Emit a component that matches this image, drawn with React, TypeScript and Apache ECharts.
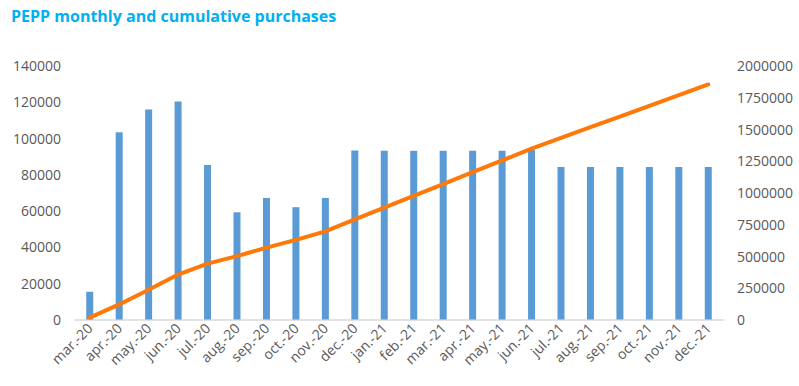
import React, { useEffect, useRef } from "react";
import * as echarts from "echarts";

const categories = [
  "mar.-20", "apr.-20", "may.-20", "jun.-20", "jul.-20", "aug.-20", "sep.-20", "oct.-20", "nov.-20", "dec.-20",
  "jan.-21", "feb.-21", "mar.-21", "apr.-21", "may.-21", "jun.-21", "jul.-21", "aug.-21", "sep.-21", "oct.-21", "nov.-21", "dec.-21",
];

const monthly = [
  15300, 103200, 115700, 120100, 85200, 59100, 67000, 61900, 67000, 93100,
  93000, 93000, 93000, 93000, 93000, 93400, 84100, 84100, 84100, 84100, 84100, 84100,
];

const cumulative = [
  15300, 118500, 234200, 354300, 439500, 498600, 565600, 627500, 694500, 787600,
  880600, 973600, 1066600, 1159600, 1252600, 1346000, 1430100, 1514200, 1598300, 1682400, 1766500, 1850600,
];

const title = "PEPP monthly and cumulative purchases";

export default function App() {
  const ref = useRef<HTMLDivElement>(null);
  useEffect(() => {
    document.body.style.margin = "0";
    const chart = echarts.init(ref.current!, null, { renderer: "svg" });
    const labelStyle = { color: "#595959", fontSize: 14, fontFamily: "Open Sans" };
    const plain = (v: number) => String(v);
    chart.setOption({
      animation: false,
      title: {
        text: title,
        left: 6,
        top: 3,
        textStyle: { color: "#00B0F0", fontSize: 16, fontWeight: "bold", fontFamily: "Open Sans" },
      },
      grid: { left: 75, right: 76, top: 65.5, bottom: 66.5, containLabel: false },
      xAxis: {
        type: "category",
        data: categories,
        axisLine: { lineStyle: { color: "#D9D9D9", width: 1.5 } },
        axisTick: { show: false },
        axisLabel: { ...labelStyle, rotate: 45, margin: 6, interval: 0 },
      },
      yAxis: [
        {
          type: "value",
          min: 0,
          max: 140000,
          interval: 20000,
          splitLine: { show: false },
          axisLine: { show: false },
          axisTick: { show: false },
          axisLabel: { ...labelStyle, margin: 14, formatter: plain },
        },
        {
          type: "value",
          min: 0,
          max: 2000000,
          interval: 250000,
          splitLine: { show: false },
          axisLine: { show: false },
          axisTick: { show: false },
          axisLabel: { ...labelStyle, margin: 14, formatter: plain },
        },
      ],
      series: [
        {
          type: "bar",
          data: monthly,
          yAxisIndex: 0,
          barWidth: 7,
          itemStyle: { color: "#5B9BD5" },
        },
        {
          type: "line",
          data: cumulative,
          yAxisIndex: 1,
          symbol: "none",
          lineStyle: { color: "#FF7808", width: 4, cap: "round" },
        },
      ],
    });
    return () => chart.dispose();
  }, []);
  return <div ref={ref} style={{ width: 799, height: 386 }} />;
}
